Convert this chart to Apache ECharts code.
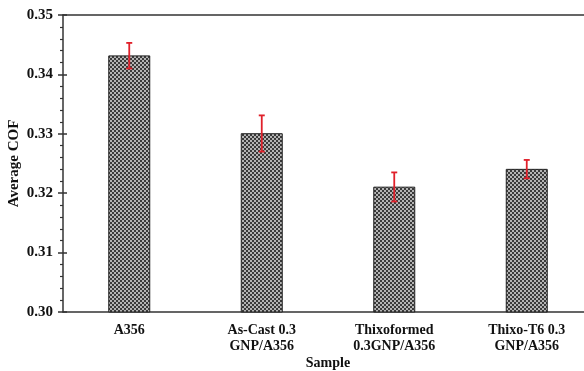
<!DOCTYPE html>
<html>
<head>
<meta charset="utf-8">
<script src="https://cdn.jsdelivr.net/npm/echarts@6/dist/echarts.min.js"></script>
<style>html,body{margin:0;padding:0;background:#fff;}#c{width:584px;height:371px;}</style>
</head>
<body>
<div id="c"></div>
<script>
const categories = ['A356', 'As-Cast 0.3\nGNP/A356', 'Thixoformed\n0.3GNP/A356', 'Thixo-T6 0.3\nGNP/A356'];
const cofValues = [0.3432, 0.3301, 0.3211, 0.3241];
const errPlus = [0.0021, 0.0030, 0.0024, 0.0015];
const errMinus = [0.0022, 0.0031, 0.0025, 0.0016];
const yTicks = [0.30, 0.31, 0.32, 0.33, 0.34, 0.35];

const FONT = "'Liberation Serif', 'Times New Roman', serif";

// checker pattern fill (2px squares)
const pc = document.createElement('canvas');
pc.width = 4; pc.height = 4;
const pctx = pc.getContext('2d');
pctx.fillStyle = '#b4b4b4'; pctx.fillRect(0, 0, 4, 4);
pctx.fillStyle = '#3a3a3a'; pctx.fillRect(0, 0, 2, 2); pctx.fillRect(2, 2, 2, 2);

const errData = categories.map((c, i) => [i, cofValues[i] - errMinus[i], cofValues[i] + errPlus[i]]);

const chart = echarts.init(document.getElementById('c'), null, {renderer: 'canvas'});
chart.setOption({
  animation: false,
  backgroundColor: '#fff',
  grid: {left: 63, right: -9, top: 15, bottom: 59, containLabel: false, outerBoundsMode: 'none'},
  xAxis: [{
    type: 'category',
    data: categories,
    position: 'bottom',
    axisLine: {lineStyle: {color: '#333', width: 1.5}},
    axisTick: {alignWithLabel: true, inside: true, length: 4, lineStyle: {color: '#333', width: 1.5}},
    axisLabel: {fontFamily: FONT, fontWeight: 'bold', fontSize: 14, color: '#111', lineHeight: 16, margin: 10, interval: 0},
    name: 'Sample',
    nameLocation: 'middle',
    nameGap: 44,
    nameMoveOverlap: false,
    nameTextStyle: {fontFamily: FONT, fontWeight: 'bold', fontSize: 14, color: '#111'}
  }, {
    type: 'category',
    data: categories,
    position: 'top',
    axisLine: {lineStyle: {color: '#333', width: 1.5}},
    axisTick: {show: false},
    axisLabel: {show: false}
  }],
  yAxis: [{
    type: 'value',
    min: 0.30, max: 0.35, interval: 0.01,
    axisLine: {show: true, lineStyle: {color: '#333', width: 1.5}},
    axisTick: {show: true, length: 5, lineStyle: {color: '#333', width: 1.5}},
    minorTick: {show: true, splitNumber: 5, length: 3, lineStyle: {color: '#333', width: 1.2}},
    splitLine: {show: false},
    axisLabel: {fontFamily: FONT, fontWeight: 'bold', fontSize: 15, color: '#111', margin: 10,
      formatter: v => { const t = yTicks.find(x => Math.abs(x - v) < 1e-9); return (t !== undefined ? t : v).toFixed(2); }},
    name: 'Average COF',
    nameLocation: 'middle',
    nameGap: 41,
    nameMoveOverlap: false,
    nameTextStyle: {fontFamily: FONT, fontWeight: 'bold', fontSize: 15, color: '#111'}
  }, {
    type: 'value',
    position: 'left',
    min: 0.30, max: 0.35, interval: 0.01,
    axisLine: {show: false},
    axisTick: {show: true, inside: true, length: 4, lineStyle: {color: '#333', width: 1.5}},
    axisLabel: {show: false},
    splitLine: {show: false}
  }],
  series: [{
    type: 'bar',
    data: cofValues,
    barWidth: 42,
    itemStyle: {color: {image: pc, repeat: 'repeat'}, borderColor: '#222', borderWidth: 1}
  }, {
    type: 'custom',
    data: errData,
    z: 10,
    renderItem: function (params, api) {
      const x = api.value(0);
      const lo = api.coord([x, api.value(1)]);
      const hi = api.coord([x, api.value(2)]);
      const cap = 3;
      const style = {stroke: '#e0202a', lineWidth: 1.8};
      return {type: 'group', children: [
        {type: 'line', shape: {x1: hi[0], y1: hi[1], x2: lo[0], y2: lo[1]}, style: style},
        {type: 'line', shape: {x1: hi[0] - cap, y1: hi[1], x2: hi[0] + cap, y2: hi[1]}, style: style},
        {type: 'line', shape: {x1: lo[0] - cap, y1: lo[1], x2: lo[0] + cap, y2: lo[1]}, style: style}
      ]};
    }
  }]
});
</script>
</body>
</html>
